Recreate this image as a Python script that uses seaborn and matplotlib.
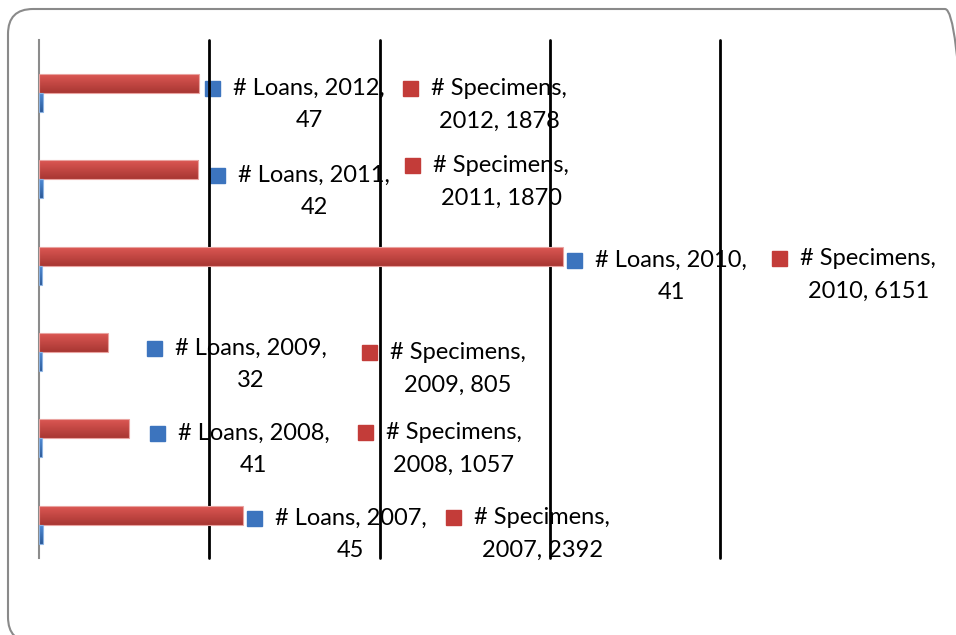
import matplotlib
matplotlib.use('Agg')
import numpy as np
import pandas as pd
import seaborn as sns
import matplotlib.pyplot as plt
from matplotlib.colors import LinearSegmentedColormap
from matplotlib.patches import FancyBboxPatch
from matplotlib import transforms

years = ['2012', '2011', '2010', '2009', '2008', '2007']
loans = [47, 42, 41, 32, 41, 45]
specimens = [1878, 1870, 6151, 805, 1057, 2392]

# where the data labels sit (left edge of text, x in data units; y offset in category units)
loans_lab_x = [2280, 2338, 6533, 1598, 1633, 2773]
spec_lab_x = [4606, 4630, 8942, 4124, 4077, 5111]
loans_lab_dy = [0.133, 0.141, 0.125, 0.145, 0.129, 0.114]
spec_lab_dy = [0.133, 0.025, 0.102, 0.191, 0.118, 0.102]

df = pd.DataFrame({'Year': years * 2,
                   'Series': ['# Specimens'] * 6 + ['# Loans'] * 6,
                   'Value': specimens + loans})

sns.set_style('white')
plt.rcParams['font.family'] = ['Lato', 'DejaVu Sans']

fig = plt.figure(figsize=(9.56, 6.35), dpi=100)
ax = fig.add_axes([39 / 956, 77 / 635, 681 / 956, 518 / 635])

sns.barplot(data=df, x='Value', y='Year', hue='Series', order=years,
            hue_order=['# Specimens', '# Loans'], palette=['#C9423F', '#3C74BE'],
            saturation=1, width=0.44, orient='h', legend=False, errorbar=None, ax=ax)

# excel-ish vertical gradient on the bars
grads = [('#DC5753', '#A83733'), ('#4E8BD7', '#2B5997')]
edges = ['#E9A3A0', '#8DB3E2']
for i, cont in enumerate(ax.containers):
    cmap = LinearSegmentedColormap.from_list('g%d' % i, grads[i])
    for bar in cont:
        x0, y0, w, h = bar.get_x(), bar.get_y(), bar.get_width(), bar.get_height()
        ax.imshow(np.linspace(0, 1, 64).reshape(-1, 1), cmap=cmap,
                  extent=(x0, x0 + w, y0 + h, y0), origin='upper', aspect='auto', zorder=3)
        bar.set_facecolor('none')
        bar.set_edgecolor(edges[i])
        bar.set_linewidth(0.8)
        bar.set_zorder(3.1)

ax.set_xlim(0, 8000)
ax.set_ylim(5.386, -0.614)
ax.set_xticks([2000, 4000, 6000, 8000])
ax.set_axisbelow(False)
ax.xaxis.grid(True, color='black', lw=2)
for l in ax.get_xgridlines():
    l.set_clip_on(False)
ax.yaxis.grid(False)
ax.tick_params(length=0, labelbottom=False, labelleft=False)
ax.set_xlabel('')
ax.set_ylabel('')
for s in ['top', 'right', 'bottom']:
    ax.spines[s].set_visible(False)
ax.spines['left'].set_color('#8C8C8C')
ax.spines['left'].set_linewidth(1.5)

sq = transforms.offset_copy(ax.transData, fig=fig, x=-21, y=16.5, units='dots')
for k, yr in enumerate(years):
    labs = [(loans_lab_x[k], loans_lab_dy[k], '# Loans, %s,\n%d' % (yr, loans[k]), '#3C74BE'),
            (spec_lab_x[k], spec_lab_dy[k], '# Specimens,\n%s, %d' % (yr, specimens[k]), '#C33C39')]
    for lx, dy, txt, col in labs:
        ax.text(lx, k + dy, txt, ha='left', va='center', multialignment='center',
                fontsize=17, linespacing=1.7, color='black', zorder=2, clip_on=False)
        ax.plot([lx], [k + dy], marker='s', ms=10.8, color=col, mec=col,
                transform=sq, clip_on=False, zorder=2)

frame = FancyBboxPatch((8, -7), 962, 633, boxstyle='round,pad=0,rounding_size=25',
                       transform=transforms.IdentityTransform(), fill=False,
                       ec='#8A8A8A', lw=1.5)
fig.add_artist(frame)

fig.savefig('out.png', dpi=100)
